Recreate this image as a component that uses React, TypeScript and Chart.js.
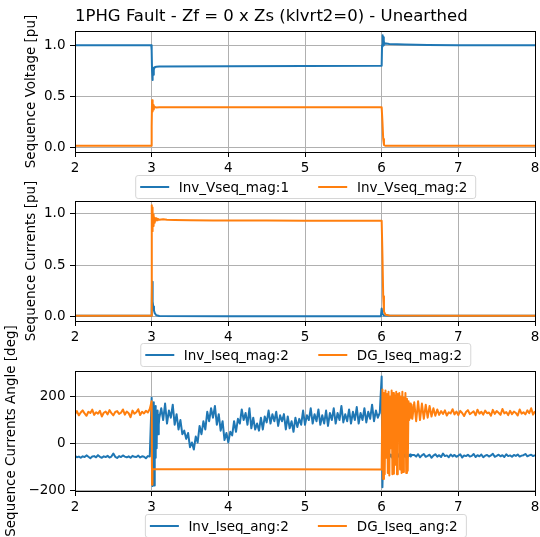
import React, { useEffect, useRef } from "react";
import { Chart, registerables } from "chart.js";

Chart.register(...registerables);

// ---------------- DATA ----------------
const TITLE = "1PHG Fault - Zf = 0 x Zs (klvrt2=0) - Unearthed";

const xTicks = [2, 3, 4, 5, 6, 7, 8];
const xTickLabels = ["2", "3", "4", "5", "6", "7", "8"];

const magTicks = [0, 0.5, 1.0];
const magTickLabels = ["0.0", "0.5", "1.0"];
const angTicks = [-200, 0, 200];
const angTickLabels = ["\u2212200", "0", "200"];

const yLabels = ["Sequence Voltage [pu]", "Sequence Currents [pu]", "Sequence Currents Angle [deg]"];
const seriesNames = [
  ["Inv_Vseq_mag:1", "Inv_Vseq_mag:2"],
  ["Inv_Iseq_mag:2", "DG_Iseq_mag:2"],
  ["Inv_Iseq_ang:2", "DG_Iseq_ang:2"],
];

// Panel 1: [time s, value pu]
const invVseqMag1 = [
  [2.0, 1.0], [2.995, 1.0], [3.0, 0.95], [3.005, 0.75], [3.01, 0.66], [3.015, 0.76], [3.02, 0.71],
  [3.025, 0.78], [3.03, 0.76], [3.04, 0.785], [3.06, 0.79], [3.1, 0.792], [4.0, 0.795], [5.0, 0.797],
  [5.99, 0.8], [6.0, 0.8], [6.005, 1.0], [6.01, 1.1], [6.015, 0.99], [6.02, 1.08], [6.025, 1.0],
  [6.03, 1.04], [6.04, 1.015], [6.06, 1.018], [6.1, 1.013], [6.3, 1.008], [6.6, 1.004], [7.0, 1.002], [8.0, 1.0],
];
const invVseqMag2 = [
  [2.0, 0.012], [2.995, 0.012], [3.0, 0.2], [3.005, 0.46], [3.01, 0.35], [3.015, 0.43], [3.02, 0.37],
  [3.025, 0.41], [3.03, 0.38], [3.04, 0.395], [3.06, 0.388], [3.1, 0.39], [4.0, 0.39], [5.0, 0.39],
  [5.99, 0.39], [6.0, 0.39], [6.01, 0.25], [6.02, 0.08], [6.03, 0.02], [6.05, 0.012], [8.0, 0.012],
];

// Panel 2
const invIseqMag2 = [
  [2.0, 0.01], [2.995, 0.01], [3.0, 0.05], [3.005, 0.34], [3.01, 0.22], [3.015, 0.15], [3.02, 0.1],
  [3.03, 0.06], [3.04, 0.035], [3.06, 0.015], [3.1, 0.007], [4.0, 0.005], [5.0, 0.005], [5.99, 0.005],
  [6.0, 0.08], [6.01, 0.03], [6.03, 0.012], [6.1, 0.01], [8.0, 0.01],
];
const dgIseqMag2 = [
  [2.0, 0.01], [2.995, 0.01], [3.0, 0.6], [3.003, 1.08], [3.006, 0.85], [3.009, 1.06], [3.012, 0.83],
  [3.015, 1.02], [3.018, 0.88], [3.021, 0.99], [3.025, 0.9], [3.03, 0.97], [3.035, 0.91], [3.04, 0.96],
  [3.05, 0.93], [3.06, 0.955], [3.07, 0.935], [3.08, 0.95], [3.1, 0.94], [3.15, 0.945], [3.2, 0.94],
  [3.3, 0.938], [3.5, 0.935], [3.8, 0.933], [4.0, 0.932], [4.5, 0.932], [5.0, 0.93], [5.5, 0.93],
  [5.99, 0.93], [6.0, 0.93], [6.01, 0.6], [6.02, 0.2], [6.03, 0.05], [6.05, 0.02], [6.1, 0.012],
  [7.0, 0.01], [8.0, 0.01],
];

// Panel 3 (angles, deg) – sampled segments: start time, sample step, values
const invAngPre = [ // 2.000 .. 2.975, step 0.025
  -52, -58, -55, -60, -54, -57, -50, -56,
  -62, -55, -53, -58, -49, -56, -60, -54,
  -57, -52, -59, -55, -42, -56, -61, -53,
  -57, -50, -55, -58, -54, -60, -52, -56,
  -57, -51, -59, -54, -56, -62, -53, -55,
];
const invAngOnset = [ // 3.000 .. 3.100, step 0.005
  195, -150, 170, -180, 150, -100, 175, -178, 120, -60, 160, 20, 130, -20, 110, 60, 140, 40, 120, 80, 110,
];
const invAngFault = [ // 3.125 .. 5.975, step 0.025
  150, 100, 170, 85, 140, 110, 165, 80, 125, 60,
  100, 40, 55, 20, 45, -15, 5, -25, 30, 5,
  75, 40, 95, 60, 135, 95, 150, 110, 160, 80,
  125, 55, 95, 15, 45, 5, 50, 35, 95, 50,
  105, 85, 145, 100, 130, 80, 150, 65, 110, 60,
  85, 55, 110, 60, 115, 90, 140, 85, 125, 95,
  135, 75, 120, 95, 125, 60, 115, 65, 95, 50,
  110, 70, 105, 80, 140, 80, 120, 100, 150, 85,
  125, 95, 145, 80, 120, 85, 140, 75, 130, 100,
  150, 85, 130, 100, 160, 90, 125, 95, 145, 85,
  135, 100, 155, 85, 130, 100, 150, 90, 135, 105,
  165, 95, 140, 110, 130,
];
const invAngClear = [ // 6.00 .. 6.40, step 0.01
  285, -185, -40, -52, -47, -56, -50, -44, -58, -51, -48, -55, -46, -53, -60, -49, -45, -57, -52, -50,
  -43, -56, -49, -54, -47, -58, -51, -45, -55, -50, -48, -56, -44, -53, -57, -49, -52, -46, -55, -50, -48,
];
const invAngPost = [ // 6.425 .. 8.000, step 0.025
  -48, -55, -45, -58, -50, -44, -56, -52,
  -47, -60, -51, -45, -55, -49, -57, -42,
  -53, -50, -58, -46, -54, -48, -56, -51,
  -45, -59, -50, -53, -47, -55, -52, -44,
  -57, -49, -54, -46, -58, -51, -48, -55,
  -50, -43, -56, -52, -47, -54, -49, -57,
  -45, -53, -50, -56, -48, -52, -46, -55,
  -51, -49, -44, -54, -50, -47, -53, -49,
];

const dgAngPre = [ // 2.000 .. 2.975, step 0.025
  125, 138, 120, 132, 141, 128, 118, 135,
  130, 144, 122, 133, 127, 139, 115, 131,
  136, 124, 142, 129, 120, 134, 138, 126,
  131, 145, 123, 136, 129, 112, 140, 127,
  133, 146, 121, 135, 128, 139, 132, 147,
];
const dgAngOnset = [180, -175, -108]; // 3.000 .. 3.010, step 0.005
const dgAngClear = [ // 6.00 .. 6.40, step 0.01
  -110, 230, -150, 215, -130, 225, -60, 210, -125, 220,
  -135, 200, -20, 225, -130, 215, -128, 205, -90, 220,
  -130, 210, 40, 215, -110, 200, -125, 220, -120, 195,
  -40, 215, -125, 190, -115, 180, 100, 170, 110, 165, 105,
];
const dgAngPost = [ // 6.425 .. 8.000, step 0.025
  175, 95, 180, 100, 170, 105, 165, 110, 160, 115, 150, 118,
  145, 122, 138, 126, 141, 119, 133, 128, 146, 124,
  136, 121, 139, 130, 117, 134, 142, 125, 131, 137,
  120, 144, 127, 135, 123, 140, 129, 132, 118, 143,
  126, 138, 131, 122, 147, 128, 134, 121, 139, 125,
  136, 130, 119, 145, 127, 133, 124, 141, 129, 150,
  123, 137,
];

// ---------------- HELPERS ----------------
type Pt = { x: number; y: number };
const fromPairs = (p: number[][]): Pt[] => p.map(([x, y]) => ({ x, y }));
const seg = (start: number, step: number, values: number[]): Pt[] =>
  values.map((v, i) => ({ x: Math.round((start + i * step) * 10000) / 10000, y: v }));

const BLUE = "#1f77b4";
const ORANGE = "#ff7f0e";
const FONT = "'DejaVu Sans', 'Liberation Sans', sans-serif";
const TICK_FONT = { family: FONT, size: 13.5 };

const framePlugin = {
  id: "frame",
  afterDatasetsDraw(chart: any) {
    const { ctx, chartArea } = chart;
    const { left, top, right, bottom } = chartArea;
    ctx.save();
    ctx.strokeStyle = "#000";
    ctx.lineWidth = 1;
    ctx.strokeRect(Math.round(left) + 0.5, Math.round(top) + 0.5, Math.round(right - left), Math.round(bottom - top));
    ctx.restore();
  },
};

const titlePlugin = {
  id: "figtitle",
  afterDraw(chart: any) {
    const { ctx, chartArea } = chart;
    ctx.save();
    ctx.fillStyle = "#000";
    ctx.font = `16.5px ${FONT}`;
    ctx.textAlign = "left";
    ctx.textBaseline = "alphabetic";
    ctx.fillText(TITLE, chartArea.left, 21);
    ctx.restore();
  },
};

type PanelCfg = {
  canvasTop: number;
  canvasHeight: number;
  padTop: number;
  xAxisHeight: number;
  yMin: number;
  yMax: number;
  yTicks: number[];
  yTickLabels: string[];
  yTitle: string;
  yTitleCenterX: number;
  blue: Pt[];
  orange: Pt[];
  names: string[];
  legendTop: number;
  withTitle: boolean;
};

const panels: PanelCfg[] = [
  {
    canvasTop: 0, canvasHeight: 180, padTop: 31, xAxisHeight: 28,
    yMin: -0.049, yMax: 1.141, yTicks: magTicks, yTickLabels: magTickLabels,
    yTitle: yLabels[0], yTitleCenterX: 31,
    blue: fromPairs(invVseqMag1), orange: fromPairs(invVseqMag2), names: seriesNames[0],
    legendTop: 175, withTitle: true,
  },
  {
    canvasTop: 176, canvasHeight: 172, padTop: 25, xAxisHeight: 27,
    yMin: -0.041, yMax: 1.122, yTicks: magTicks, yTickLabels: magTickLabels,
    yTitle: yLabels[1], yTitleCenterX: 31,
    blue: fromPairs(invIseqMag2), orange: fromPairs(dgIseqMag2), names: seriesNames[1],
    legendTop: 343, withTitle: false,
  },
  {
    canvasTop: 318, canvasHeight: 219, padTop: 53, xAxisHeight: 46,
    yMin: -201, yMax: 308, yTicks: angTicks, yTickLabels: angTickLabels,
    yTitle: yLabels[2], yTitleCenterX: 11,
    blue: [
      ...seg(2.0, 0.025, invAngPre),
      ...seg(3.0, 0.005, invAngOnset),
      ...seg(3.125, 0.025, invAngFault),
      ...seg(6.0, 0.01, invAngClear),
      ...seg(6.425, 0.025, invAngPost),
    ],
    orange: [
      ...seg(2.0, 0.025, dgAngPre),
      ...seg(3.0, 0.005, dgAngOnset),
      ...seg(6.0, 0.01, dgAngClear),
      ...seg(6.425, 0.025, dgAngPost),
    ],
    names: seriesNames[2],
    legendTop: 513.5, withTitle: false,
  },
];

function buildChart(canvas: HTMLCanvasElement, p: PanelCfg) {
  const lineHeight = 13.5 * 1.2;
  return new Chart(canvas, {
    type: "line",
    data: {
      datasets: [
        {
          label: p.names[0], data: p.blue, borderColor: BLUE, backgroundColor: BLUE,
          borderWidth: 2, pointRadius: 0, tension: 0, fill: false, order: 1,
          borderJoinStyle: "round", borderCapStyle: "butt",
        },
        {
          label: p.names[1], data: p.orange, borderColor: ORANGE, backgroundColor: ORANGE,
          borderWidth: 2, pointRadius: 0, tension: 0, fill: false, order: 0,
          borderJoinStyle: "round", borderCapStyle: "butt",
        },
      ],
    },
    options: {
      animation: false,
      responsive: false,
      maintainAspectRatio: false,
      events: [],
      layout: { padding: { left: 0, right: 5, top: p.padTop, bottom: 0 } },
      plugins: { legend: { display: false }, tooltip: { enabled: false }, title: { display: false } },
      scales: {
        x: {
          type: "linear",
          min: 2,
          max: 8,
          afterBuildTicks: (s: any) => { s.ticks = xTicks.map((v) => ({ value: v })); },
          afterFit: (s: any) => {
            s.height = p.xAxisHeight;
            s.paddingLeft = 0; s.paddingRight = 0; s.paddingTop = 0; s.paddingBottom = 0;
          },
          ticks: {
            autoSkip: false, maxRotation: 0, minRotation: 0, padding: 3, color: "#000", font: TICK_FONT,
            callback: (v: any) => xTickLabels[xTicks.indexOf(Number(v))] ?? "",
          },
          grid: { color: "#b0b0b0", lineWidth: 1, tickLength: 5, tickColor: "#000", tickWidth: 1, drawTicks: true },
          border: { display: false },
        },
        y: {
          type: "linear",
          min: p.yMin,
          max: p.yMax,
          afterBuildTicks: (s: any) => { s.ticks = p.yTicks.map((v) => ({ value: v })); },
          afterFit: (s: any) => {
            s.width = 75;
            s.paddingLeft = 0; s.paddingRight = 0; s.paddingTop = 0; s.paddingBottom = 0;
          },
          ticks: {
            autoSkip: false, padding: 4.5, color: "#000", font: TICK_FONT,
            callback: (v: any) => p.yTickLabels[p.yTicks.indexOf(Number(v))] ?? "",
          },
          grid: { color: "#b0b0b0", lineWidth: 1, tickLength: 5, tickColor: "#000", tickWidth: 1, drawTicks: true },
          border: { display: false },
          title: {
            display: true,
            text: p.yTitle,
            color: "#000",
            font: { family: FONT, size: 13.5 },
            padding: { top: p.yTitleCenterX - lineHeight / 2, bottom: 0 },
          },
        },
      },
    } as any,
    plugins: p.withTitle ? [framePlugin, titlePlugin] : [framePlugin],
  });
}

function Legend({ top, names }: { top: number; names: string[] }) {
  const line = (color: string, first: boolean) => (
    <span
      style={{
        display: "inline-block", width: 29, height: 2, background: color,
        marginLeft: first ? 0 : 29, marginRight: 10,
      }}
    />
  );
  return (
    <div
      style={{
        position: "absolute", top, left: 305.5, transform: "translateX(-50%)",
        height: 24, boxSizing: "border-box", border: "1px solid #d6d6d6", borderRadius: 3,
        background: "rgba(255,255,255,0.8)", display: "flex", alignItems: "center",
        paddingLeft: 4, paddingRight: 8, fontFamily: FONT, fontSize: 13.5, color: "#000",
        whiteSpace: "nowrap", lineHeight: "16px",
      }}
    >
      {line(BLUE, true)}
      <span>{names[0]}</span>
      {line(ORANGE, false)}
      <span>{names[1]}</span>
    </div>
  );
}

export default function App() {
  const refs = [useRef<HTMLCanvasElement>(null), useRef<HTMLCanvasElement>(null), useRef<HTMLCanvasElement>(null)];

  useEffect(() => {
    const charts = panels.map((p, i) => buildChart(refs[i].current as HTMLCanvasElement, p));
    return () => charts.forEach((c) => c.destroy());
  }, []);

  return (
    <div
      style={{
        position: "absolute", left: 0, top: 0, width: 540, height: 537,
        background: "#fff", overflow: "hidden",
      }}
    >
      {panels.map((p, i) => (
        <canvas
          key={i}
          ref={refs[i]}
          width={540}
          height={p.canvasHeight}
          style={{ position: "absolute", left: 0, top: p.canvasTop, width: 540, height: p.canvasHeight }}
        />
      ))}
      {panels.map((p, i) => (
        <Legend key={"l" + i} top={p.legendTop} names={p.names} />
      ))}
    </div>
  );
}
